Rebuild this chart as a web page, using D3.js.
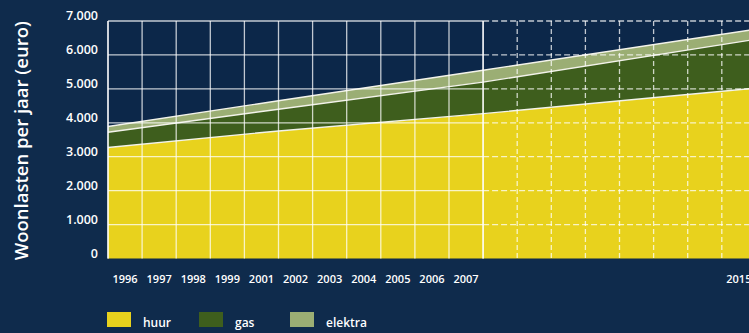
<!DOCTYPE html>
<html><head><meta charset="utf-8">
<script src="https://cdn.jsdelivr.net/npm/d3@7"></script>
<style>html,body{margin:0;padding:0;background:#0f2b4c;overflow:hidden}svg{display:block}</style>
</head><body>
<svg id="c" width="749" height="333"></svg>
<script>
// Columns (years) along the x axis; 2000 is absent in the source
const columns = ["1996","1997","1998","1999","2001","2002","2003","2004","2005","2006","2007",
                 "2008","2009","2010","2011","2012","2013","2014","2015"];
const shownLabels = ["1996","1997","1998","1999","2001","2002","2003","2004","2005","2006","2007","2015"];
const historicCount = 11; // columns up to and including 2007 are actual, rest is forecast
// area data at column boundaries (0 = start of 1996, 11 = end of 2007, 19 = end of 2015)
const boundary = [0, 5, 11, 19];
const huur    = [3270, 3760, 4270, 5020];
const gas     = [450, 640, 930, 1440];
const elektra = [170, 250, 350, 300];
const series = ["huur","gas","elektra"];
const colors = ["#e8d21d","#3e5e1d","#9bae74"];
const yTicks = [0,1000,2000,3000,4000,5000,6000,7000];
const yTitle = "Woonlasten per jaar (euro)";

(function(){
const svg = d3.select("#c");
const W = 749, H = 333;
const mLeft = 108, mTop = 21, mBottom = 258.5, colW = 34.1;
const mRight = mLeft + columns.length*colW;
const split = mLeft + historicCount*colW;

const xb = d3.scaleBand().domain(columns).range([mLeft, mRight]).padding(0);
const xl = d3.scaleLinear().domain([0, columns.length]).range([mLeft, mRight]);
const y = d3.scaleLinear().domain([0,7000]).range([mBottom, mTop]);

svg.append("rect").attr("width",W).attr("height",H).attr("fill","#0f2b4c");
svg.append("rect").attr("x",mLeft).attr("y",mTop).attr("width",W-mLeft).attr("height",mBottom-mTop).attr("fill","#0c2749");

const rows = boundary.map((b,i)=>({b, huur:huur[i], gas:gas[i], elektra:elektra[i]}));
const stacked = d3.stack().keys(series)(rows);
const area = d3.area().x(d=>xl(d.data.b)).y0(d=>y(d[0])).y1(d=>y(d[1]));
const line = d3.line().x(d=>xl(d.data.b)).y(d=>y(d[1]));
const g = svg.append("g");
stacked.forEach((s,i)=>{
  g.append("path").attr("d",area(s)).attr("fill",colors[i]);
});
stacked.forEach((s,i)=>{
  g.append("path").attr("d",line(s)).attr("fill","none").attr("stroke","#f3f3ea").attr("stroke-width",1.4);
});

// grid
const grid = svg.append("g").attr("stroke","#ffffff").attr("stroke-opacity",0.75).attr("stroke-width",1.3);
yTicks.filter(t=>t>0).forEach(t=>{
  grid.append("line").attr("x1",mLeft).attr("x2",split).attr("y1",y(t)).attr("y2",y(t));
  grid.append("line").attr("x1",split).attr("x2",W).attr("y1",y(t)).attr("y2",y(t)).attr("stroke-dasharray","6,3");
});
d3.range(0, columns.length).forEach(i=>{
  const x = xl(i);
  const sel = grid.append("line").attr("x1",x).attr("x2",x).attr("y1",mTop).attr("y2",mBottom);
  if(i>historicCount) sel.attr("stroke-dasharray","5,3");
});
grid.append("line").attr("x1",mLeft).attr("x2",mLeft).attr("y1",mTop).attr("y2",mBottom).attr("stroke-opacity",0.95);
grid.append("line").attr("x1",split).attr("x2",split).attr("y1",mTop).attr("y2",mBottom).attr("stroke-opacity",0.95);

// y axis labels
const yAxis = d3.axisLeft(y).tickValues(yTicks).tickSize(0).tickPadding(10)
  .tickFormat(d=> d===0 ? "0" : d3.format(",")(d).replace(/,/g,"."));
const ya = svg.append("g").attr("transform",`translate(${mLeft},0)`).call(yAxis);
ya.select(".domain").remove();
ya.selectAll("text").attr("fill","#ffffff").attr("font-family","'Open Sans', sans-serif")
  .attr("font-weight","600").attr("font-size","12.5px").attr("dy","-0.1em");

// x axis labels
const xAxis = d3.axisBottom(xb).tickValues(shownLabels).tickSize(0).tickPadding(0);
const xa = svg.append("g").attr("transform",`translate(0,${mBottom})`).call(xAxis);
xa.select(".domain").remove();
xa.selectAll("text").attr("fill","#ffffff").attr("font-family","'Open Sans', sans-serif")
  .attr("font-weight","600").attr("font-size","11px").attr("y",17);

// y title
svg.append("text").attr("transform",`translate(28,${(mTop+mBottom)/2+1}) rotate(-90)`)
  .attr("text-anchor","middle").attr("fill","#ffffff").attr("font-family","'Open Sans', sans-serif")
  .attr("font-weight","600").attr("font-size","18.5px").text(yTitle);

// legend
const lx = d3.scaleOrdinal().domain(series).range([107, 199, 290]);
const leg = svg.append("g");
series.forEach((s,i)=>{
  leg.append("rect").attr("x",lx(s)).attr("y",312).attr("width",24).attr("height",15).attr("fill",colors[i]);
  leg.append("text").attr("x",lx(s)+36).attr("y",327).attr("fill","#ffffff")
    .attr("font-family","'Open Sans', sans-serif").attr("font-weight","600").attr("font-size","12px").text(s);
});
})();
</script>
</body></html>
